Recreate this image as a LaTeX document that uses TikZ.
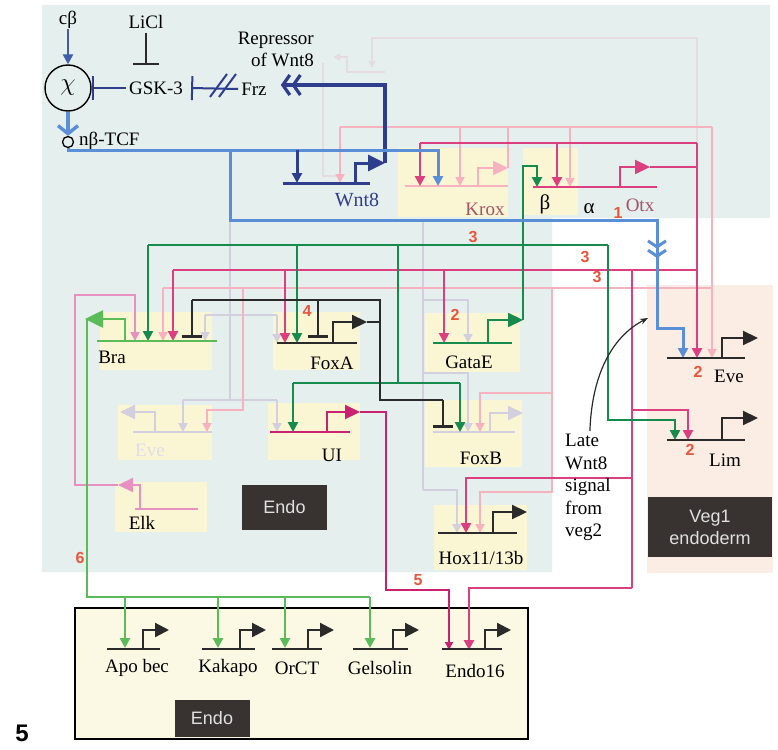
\documentclass[tikz,border=0pt]{standalone}
\usepackage{fontspec}
\setmainfont{Liberation Serif}
\setsansfont{Liberation Sans}
\usepackage{tikz}
\usetikzlibrary{arrows.meta, positioning, calc}
\definecolor{regionblue}{HTML}{E5EFEE}
\definecolor{regionpeach}{HTML}{FCEDE4}
\definecolor{geneyellow}{HTML}{FAF5D2}
\definecolor{endoyellow}{HTML}{FBF8E4}
\definecolor{wntnavy}{HTML}{2E3D8C}
\definecolor{tcfblue}{HTML}{5A8ED6}
\definecolor{otxmag}{HTML}{DB3F80}
\definecolor{uimag}{HTML}{C9236F}
\definecolor{kroxpink}{HTML}{F6B3BF}
\definecolor{elkpink}{HTML}{E790C2}
\definecolor{gatagreen}{HTML}{178A4D}
\definecolor{bragreen}{HTML}{5BBB58}
\definecolor{fadegray}{HTML}{D3CFDF}
\definecolor{ghostgray}{HTML}{E6DCDF}
\definecolor{darkline}{HTML}{2A2A2A}
\definecolor{numred}{HTML}{E9553A}
\definecolor{labelbox}{HTML}{383331}
\definecolor{mauvetext}{HTML}{A35466}

\begin{document}
\begin{tikzpicture}[
    x=1pt, y=-1pt,
    >=Stealth,
    genebox/.style={fill=geneyellow, anchor=north west, inner sep=0pt},
    lbl/.style={font=\fontsize{19}{21}\selectfont, inner sep=0pt},
    num/.style={font=\sffamily\bfseries\fontsize{16}{16}\selectfont, text=numred, inner sep=0pt},
    tagbox/.style={fill=labelbox, text=white!88!black, align=center, inner sep=0pt,
      font=\sffamily\fontsize{18}{22}\selectfont},
    wire/.style={line width=2.6pt},
    act/.style={wire, -{Triangle[length=10pt,width=10pt]}},
    rep/.style={wire, -{Bar[width=20pt]}},
    soft/.style={line width=1.8pt, -{Triangle[length=9pt,width=9pt]}},
    gene/.style={line width=2.2pt},
    prom/.style={line width=2.2pt, -{Triangle[length=15pt,width=14pt]}},
    ghost/.style={ghostgray, line width=1.3pt}
  ]

  \useasboundingbox (0,0) rectangle (778,749);
  \fill[white] (0,0) rectangle (778,749);
  \fill[regionblue] (42,5) -- (770,5) -- (770,218) -- (552,218) -- (552,572) -- (42,572) -- cycle;
  \fill[regionpeach] (647,285) rectangle (773,573);
  \draw[fill=endoyellow, line width=1.2pt] (75,608) rectangle (528,739);

  \node[genebox, minimum width=110pt, minimum height=69pt] (kroxbox) at (398,148) {};
  \node[genebox, minimum width=55pt, minimum height=67pt] (otxbox) at (523,148) {};
  \node[genebox, minimum width=112pt, minimum height=58pt] (brabox) at (100,312) {};
  \node[genebox, minimum width=87pt, minimum height=58pt] (foxabox) at (273,312) {};
  \node[genebox, minimum width=95pt, minimum height=59pt] (gatabox) at (425,313) {};
  \node[genebox, minimum width=94pt, minimum height=55pt] (evefbox) at (118,405) {};
  \node[genebox, minimum width=92pt, minimum height=57pt] (uibox) at (268,403) {};
  \node[genebox, minimum width=97pt, minimum height=67pt] (foxbbox) at (425,400) {};
  \node[genebox, minimum width=92pt, minimum height=50pt] (elkbox) at (115,482) {};
  \node[genebox, minimum width=93pt, minimum height=65pt] (hoxbox) at (434,505) {};

  \node[tagbox, minimum width=85pt, minimum height=45pt] (endotag) at (284.5,507.5) {Endo};
  \node[tagbox, minimum width=75pt, minimum height=37pt] (endotagb) at (212,718.5) {Endo};
  \node[tagbox, minimum width=124pt, minimum height=60pt] (vegtag) at (710,527) {Veg1\\endoderm};

  \draw[ghost, -{Triangle[length=7pt,width=7pt]}] (697,143) |- (372,38) -- (372,68);
  \draw[ghost, -{Triangle[length=7pt,width=7pt]}] (385,72) -| (347,57) -- (333,57);
  \draw[ghost] (323,63) -- (323,176) -- (340,176);

  \node[lbl] (cb) at (68,20) {cβ};
  \node[circle, draw, line width=1.4pt, minimum size=46pt, inner sep=0pt,
    font=\fontsize{24}{24}\selectfont] (chi) at (68,88) {$\chi$};
  \node[lbl] (licl) at (146,22) {LiCl};
  \node[lbl] (gsk) at (156,88) {GSK-3};
  \node[lbl, align=right, anchor=east, font=\fontsize{19}{22}\selectfont] (repr) at (314,49) {Repressor\\of Wnt8};
  \node[lbl] (frz) at (254,89) {Frz};
  \node[circle, draw, line width=1.3pt, minimum size=11pt, inner sep=0pt] (tcfdot) at (68,142) {};
  \node[lbl, anchor=west] (tcf) at (79,141) {nβ-TCF};

  \draw[act, wntnavy!60!tcfblue] (cb.south) -- (chi.north);
  \draw[wire, tcfblue, line width=3.4pt, -{Straight Barb[length=8pt,width=20pt]}] (chi.south) -- (tcfdot.north);
  \draw[rep, wntnavy, line width=2pt, -{Bar[width=24pt]}] (gsk.west) ++(-3,0) -- (chi.east);
  \draw[rep, darkline, line width=1.6pt, -{Bar[width=26pt]}] (licl.south) ++(0,4) -- (146,65);
  \draw[rep, wntnavy, line width=2pt, -{Bar[width=24pt]}] (frz.west) ++(-3,0) -- ($(gsk.east)+(8,0)$);
  \draw[wntnavy, line width=2pt] (210,97) -- (227,74) (219,97) -- (236,74);

  \draw[gene, fadegray, line width=2.4pt] (230,400) -- (230,220) -| (423,490);
  \draw[wire, fadegray, line width=2.4pt] (205,315) -- (277,315) (183,400) -- (277,400);
  \draw[soft, fadegray, line width=2.2pt] (205,315) -- (205,341);
  \draw[soft, fadegray, line width=2.2pt] (277,315) -- (277,343);
  \draw[soft, fadegray, line width=2.2pt] (183,400) -- (183,432);
  \draw[soft, fadegray, line width=2.2pt] (277,400) -- (277,432);
  \draw[soft, fadegray, line width=2.2pt] (423,300) -| (468,343);
  \draw[soft, fadegray, line width=2.2pt] (423,373) -| (468,432);
  \draw[soft, fadegray, line width=2.2pt] (423,490) -| (457,533);
  \draw[gene, fadegray] (133,432) -- (212,432);
  \draw[prom, fadegray] (155,432) |- (120,412) coordinate (evetip);
  \draw[gene, fadegray] (433,432) -- (515,432);
  \draw[prom, fadegray] (490,432) |- (523,413) coordinate (foxbtip);

  \draw[gene, kroxpink] (405,186) -- (508,186);
  \draw[prom, kroxpink] (478,186) |- (508,168) coordinate (kroxtip);
  \draw[wire, kroxpink, line width=2pt] (kroxtip) -- (508,127);
  \draw[wire, kroxpink, line width=2pt] (340,127) -- (712,127);
  \draw[soft, kroxpink] (340,127) -- (340,183);
  \draw[soft, kroxpink] (460,127) -- (460,186);
  \draw[soft, kroxpink] (570,127) -- (570,187);
  \draw[soft, kroxpink] (712,127) -- (712,358);
  \draw[wire, kroxpink, line width=2pt] (163,288) -- (712,288);
  \draw[soft, kroxpink] (163,288) -- (163,341);
  \draw[soft, kroxpink] (243,288) |- (207,410) -- (207,432);
  \draw[soft, kroxpink] (552,288) |- (480,393) -- (480,432);
  \draw[soft, kroxpink] (552,393) |- (480,492) -- (480,533);

  \draw[gene, elkpink] (135,509) -- (198,509);
  \draw[prom, elkpink] (140,509) |- (118,485) coordinate (elktip);
  \draw[soft, elkpink] (elktip) -- (75,485) |- (135,295) -- (135,341);

  \draw[gene, otxmag] (533,187) -- (657,187);
  \draw[prom, otxmag] (620,187) |- (650,167) coordinate (otxtip);
  \draw[wire, otxmag] (otxtip) -- (697,167);
  \draw[wire, otxmag] (420,143) -- (697,143);
  \draw[act, otxmag] (697,143) -- (697,358);
  \draw[act, otxmag] (420,143) -- (420,186);
  \draw[act, otxmag] (557,143) -- (557,187);
  \draw[wire, otxmag] (173,270) -- (697,270);
  \draw[act, otxmag] (173,270) -- (173,341);
  \draw[act, otxmag] (285,270) -- (285,343);
  \draw[act, otxmag] (444,270) -- (444,343);
  \draw[wire, otxmag] (632,270) -- (632,588);
  \draw[act, otxmag] (632,410) -| (688,440);
  \draw[act, otxmag] (632,478) -| (466,533);
  \draw[act, otxmag] (632,588) -| (469,650);

  \draw[gene, uimag] (270,432) -- (350,432);
  \draw[prom, uimag] (327,432) |- (360,412) coordinate (uitip);
  \draw[uimag, line width=1.5pt, -{Triangle[length=8pt,width=8pt]}] (uitip) -| (386,590) -| (449,650);

  \draw[gene, gatagreen] (433,343) -- (512,343);
  \draw[prom, gatagreen] (488,343) |- (523,320) coordinate (gatatip);
  \draw[act, gatagreen] (gatatip) -- (523,166) -| (537,187);
  \draw[wire, gatagreen] (148,245) -- (608,245);
  \draw[act, gatagreen] (148,245) -- (148,341);
  \draw[act, gatagreen] (297,245) -- (297,343);
  \draw[wire, gatagreen] (398,245) -- (398,383);
  \draw[wire, gatagreen] (293,383) -- (460,383);
  \draw[act, gatagreen] (293,383) -- (293,432);
  \draw[act, gatagreen] (460,383) -- (460,432);
  \draw[act, gatagreen] (608,245) |- (675,420) -- (675,440);

  \draw[gene, darkline] (277,343) -- (357,343);
  \draw[prom, darkline] (333,343) |- (367,322) coordinate (foxatip);
  \draw[wire, darkline] (foxatip) -- (380,322);
  \draw[wire, darkline] (192,300) -- (380,300) -- (380,400) -- (443,400);
  \draw[rep, darkline] (192,300) -- (192,338);
  \draw[rep, darkline] (318,300) -- (318,338);
  \draw[rep, darkline] (443,400) -- (443,428);

  \draw[gene, bragreen] (97,341) -- (217,341);
  \draw[prom, bragreen, line width=2.6pt, -{Triangle[length=18pt,width=17pt]}] (125,341) |- (85,319) coordinate (bratip);
  \draw[wire, bragreen] (87,319) -- (87,597) -- (370,597);
  \foreach \x in {125,218,285,370}
    \draw[act, bragreen] (\x,597) -- (\x,648);

  \draw[gene, wntnavy, line width=3pt] (283,183) -- (370,183);
  \draw[prom, wntnavy, line width=3pt, -{Triangle[length=17pt,width=16pt]}] (355,183) |- (385,163) coordinate (wnt8tip);
  \draw[wire, wntnavy, line width=3.2pt,
    -{Straight Barb[length=7pt,width=20pt] Straight Barb[length=7pt,width=20pt]}] (wnt8tip) -- (385,85) -- ($(frz.east)+(14,-4)$);
  \draw[act, tcfblue, line width=3pt] (tcfdot.south) |- (438,150) -- (438,186);
  \draw[act, wntnavy, line width=3pt] (297,150) -- (297,183);
  \draw[wire, tcfblue, line width=3pt,
    -{Straight Barb[length=6pt,width=18pt] Straight Barb[length=6pt,width=18pt]}] (230,150) |- (657,220) -- (657,258);
  \draw[act, tcfblue, line width=3pt] (657,250) |- (683,328) -- (683,358);

  \draw[gene, darkline] (667,358) -- (745,358);
  \draw[prom, darkline] (722,358) |- (758,338) coordinate (evetipb);
  \draw[gene, darkline] (667,440) -- (745,440);
  \draw[prom, darkline] (722,440) |- (758,418) coordinate (limtip);
  \draw[gene, darkline] (438,533) -- (517,533);
  \draw[prom, darkline] (493,533) |- (527,512) coordinate (hoxtip);
  \foreach \l/\r/\p in {107/160/143, 202/255/240, 272/322/308, 353/408/393, 442/502/485} {
    \draw[gene, darkline] (\l,649) -- (\r,649);
    \draw[prom, darkline, -{Triangle[length=14pt,width=14pt]}] (\p,649) |- ($(\p,630)+(26,0)$);
  }

  \node[lbl, text=wntnavy, font=\fontsize{20}{22}\selectfont] (wnt8lbl) at (357,200) {Wnt8};
  \node[lbl, text=mauvetext] (kroxlbl) at (485,209) {Krox};
  \node[lbl, font=\fontsize{21}{22}\selectfont] (betalbl) at (545,204) {β};
  \node[lbl, font=\fontsize{21}{22}\selectfont] (alphalbl) at (589,209) {α};
  \node[num] (n1) at (618,213) {1};
  \node[lbl, text=mauvetext] (otxlbl) at (640,205) {Otx};
  \node[lbl] (bralbl) at (112,357) {Bra};
  \node[lbl] (foxalbl) at (332,363) {FoxA};
  \node[lbl] (gatalbl) at (469,362) {GataE};
  \node[lbl, text=fadegray!70!white] (eveflbl) at (150,450) {Eve};
  \node[lbl] (uilbl) at (332,455) {UI};
  \node[lbl] (foxblbl) at (481,458) {FoxB};
  \node[lbl] (elklbl) at (142,523) {Elk};
  \node[lbl] (hoxlbl) at (481,558) {Hox11/13b};
  \node[lbl] (evelbl) at (729,376) {Eve};
  \node[lbl] (limlbl) at (725,460) {Lim};
  \node[lbl, align=left, anchor=north west, font=\fontsize{19}{22.5}\selectfont] (latewnt) at (565,434) {Late\\Wnt8\\signal\\from\\veg2};
  \draw[darkline, line width=1.2pt, -{Stealth[length=8pt]}] ($(latewnt.north)+(2,-3)$) .. controls (592,370) and (615,335) .. (648,318);

  \node[num] (n3a) at (473,237) {3};
  \node[num] (n3b) at (585,257) {3};
  \node[num] (n3c) at (597,277) {3};
  \node[num] (n2a) at (455,315) {2};
  \node[num] (n2b) at (698,372) {2};
  \node[num] (n2c) at (690,450) {2};
  \node[num] (n4) at (307,311) {4};
  \node[num] (n5) at (418,580) {5};
  \node[num] (n6) at (80,558) {6};

  \node[lbl] (apolbl) at (137,668) {Apo bec};
  \node[lbl] (kaklbl) at (228,668) {Kakapo};
  \node[lbl] (orctlbl) at (297,668) {OrCT};
  \node[lbl] (gellbl) at (380,668) {Gelsolin};
  \node[lbl] (e16lbl) at (475,671) {Endo16};
  \node[font=\sffamily\bfseries\fontsize{24}{24}\selectfont, inner sep=0pt] (fignum) at (22,733) {5};

\end{tikzpicture}
\end{document}
